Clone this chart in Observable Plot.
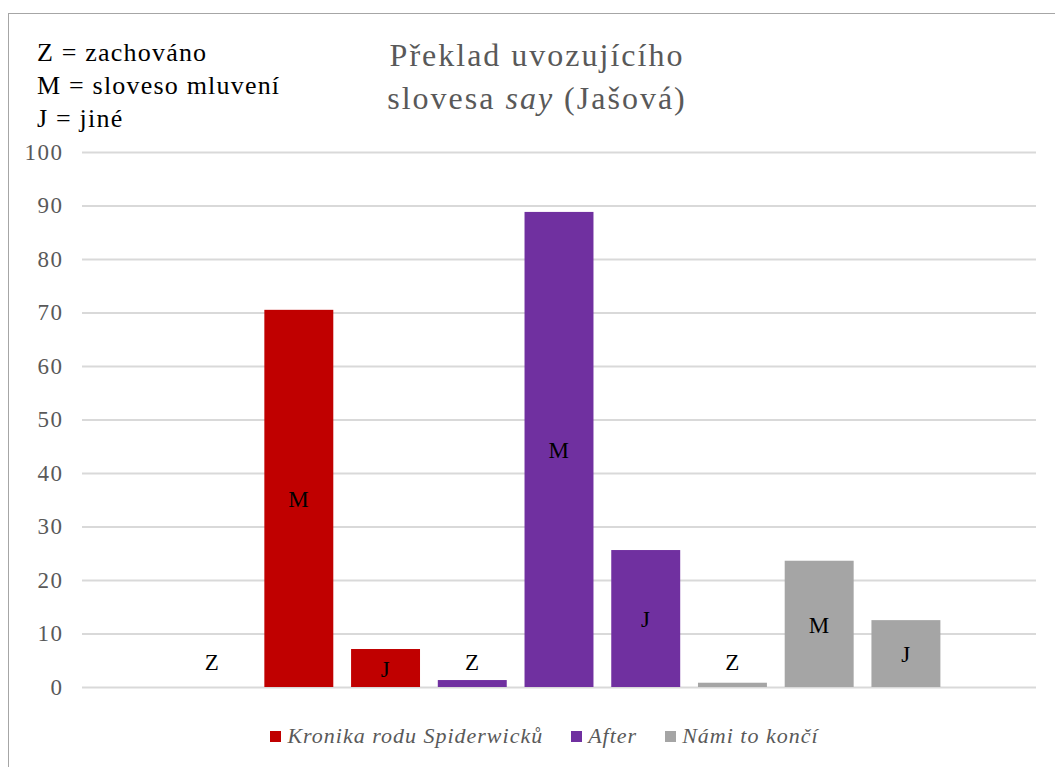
<!DOCTYPE html>
<html>
<head>
<meta charset="utf-8">
<script src="https://cdn.jsdelivr.net/npm/d3@7"></script>
<script src="https://cdn.jsdelivr.net/npm/@observablehq/plot@0.6"></script>
<style>
  body { margin: 0; background: #fff; }
  #wrap, #wrap div, #wrap span, #wrap i { font-family: 'Liberation Serif', Tinos, 'Times New Roman', Times, 'DejaVu Serif', serif !important; }
  #wrap { position: relative; width: 1055px; height: 767px; overflow: hidden; }
  #frame { position: absolute; left: 8px; top: 13px; width: 1200px; height: 900px; border-left: 1.5px solid #a6a6a6; border-top: 1.5px solid #a6a6a6; }
  #key { position: absolute; left: 37px; top: 36px; font-size: 26px; letter-spacing: 1.2px; line-height: 33px; color: #000; }
  #title { position: absolute; left: 287px; width: 500px; top: 34px; text-align: center; font-size: 32px; letter-spacing: 2px; line-height: 43px; color: #595959; }
  #chart { position: absolute; left: 0; top: 140px; }
  #legend { position: absolute; top: 723px; left: 0; width: 1055px; display: flex; justify-content: center; gap: 28px; padding-left: 34px; box-sizing: border-box; font-size: 22px; letter-spacing: 1px; font-style: italic; color: #595959; }
  #legend span.sw { display: inline-block; width: 11px; height: 11px; margin-right: 6px; }
</style>
</head>
<body>
<div id="wrap">
  <div id="frame"></div>
  <div id="key">Z = zachováno<br>M = sloveso mluvení<br>J = jiné</div>
  <div id="title">Překlad uvozujícího<br>slovesa <i>say</i> (Jašová)</div>
  <div id="chart"></div>
  <div id="legend"></div>
</div>
<script>
// Data
const books = ["Kronika rodu Spiderwicků", "After", "Námi to končí"];
const colors = ["#c00000", "#7030a0", "#a5a5a5"];
const codes = ["Z", "M", "J"];
const kronika = [0, 70.5, 7.1];
const after = [1.3, 88.8, 25.6];
const nami = [0.8, 23.6, 12.5];
const yTicks = [0, 10, 20, 30, 40, 50, 60, 70, 80, 90, 100];

const seriesValues = [kronika, after, nami];
const rows = [];
books.forEach((b, i) => {
  codes.forEach((c, j) => {
    rows.push({slot: `s${i * 3 + j + 1}`, book: b, code: c, value: seriesValues[i][j]});
  });
});
const slots = ["s0", ...rows.map(r => r.slot), "s10"];
const serif = "'Liberation Serif', Tinos, 'Times New Roman', Times, 'DejaVu Serif', serif";

const chart = Plot.plot({
  width: 1055,
  height: 580,
  marginLeft: 82,
  marginRight: 19,
  marginTop: 12,
  marginBottom: 33,
  style: {fontFamily: serif, fontSize: "23px", letterSpacing: "1.5px", background: "transparent"},
  x: {domain: slots, paddingInner: 0.205, paddingOuter: 0.1025, round: false, axis: null},
  y: {domain: [0, 100], ticks: yTicks, tickSize: 0, tickPadding: 19, label: null, grid: false},
  color: {domain: books, range: colors},
  marks: [
    Plot.ruleY(yTicks, {stroke: "#d9d9d9", strokeWidth: 2}),
    Plot.barY(rows, {x: "slot", y: "value", fill: "book"}),
    Plot.text(rows.filter(r => r.code !== "Z"), {x: "slot", y: d => d.value / 2, text: "code", fill: "#000", fontSize: 23, fontFamily: serif, dy: 1}),
    Plot.text(rows.filter(r => r.code === "Z"), {x: "slot", y: 0, text: "code", fill: "#000", fontSize: 23, fontFamily: serif, dy: -25})
  ]
});
chart.querySelectorAll("g[aria-label='y-axis tick label'] text, g[aria-label='y-axis tick label']").forEach(el => el.setAttribute("fill", "#595959"));
document.getElementById("chart").appendChild(chart);

const leg = document.getElementById("legend");
books.forEach((b, i) => {
  const item = document.createElement("div");
  item.style.display = "flex";
  item.style.alignItems = "center";
  const sw = document.createElement("span");
  sw.className = "sw";
  sw.style.background = colors[i];
  const t = document.createElement("span");
  t.textContent = b;
  item.appendChild(sw);
  item.appendChild(t);
  leg.appendChild(item);
});
</script>
</body>
</html>
